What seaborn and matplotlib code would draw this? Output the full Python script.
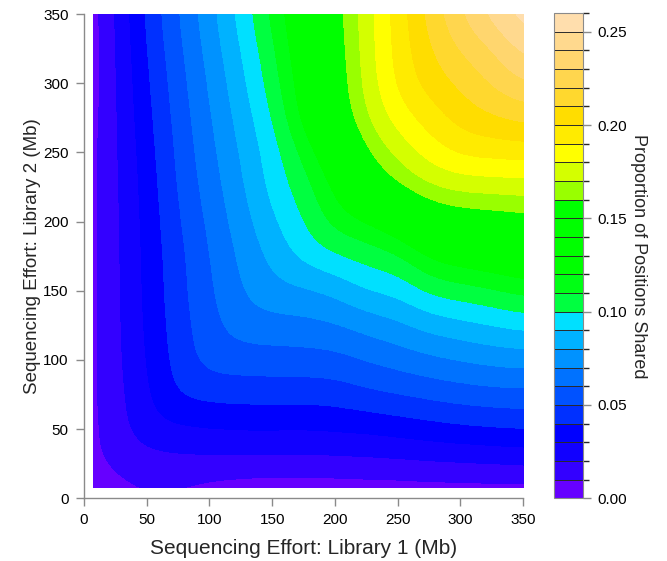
import numpy as np
import matplotlib
matplotlib.use("Agg")
import matplotlib.pyplot as plt
from matplotlib.colors import ListedColormap, BoundaryNorm
from matplotlib.patches import Rectangle
import seaborn as sns

effort_lib1 = [0, 25, 50, 75, 100, 125, 150, 175, 200, 225, 250, 275, 300, 325, 350]
effort_lib2 = [0, 25, 50, 75, 100, 125, 150, 175, 200, 225, 250, 275, 300, 325, 350]
data_start = 7  # the map itself starts at about 7 Mb on both axes

# proportion of positions shared, one list per Library 2 effort (row), across Library 1 effort
shared_y000 = [0.0000, 0.0056, 0.0087, 0.0076, 0.0035, 0.0008, 0.0000, 0.0000, 0.0009, 0.0010, 0.0011, 0.0017, 0.0017, 0.0019, 0.0014]
shared_y025 = [0.0064, 0.0124, 0.0152, 0.0166, 0.0170, 0.0172, 0.0171, 0.0168, 0.0169, 0.0176, 0.0182, 0.0190, 0.0197, 0.0203, 0.0217]
shared_y050 = [0.0050, 0.0152, 0.0270, 0.0286, 0.0300, 0.0308, 0.0309, 0.0305, 0.0317, 0.0321, 0.0342, 0.0363, 0.0384, 0.0398, 0.0406]
shared_y075 = [0.0048, 0.0166, 0.0286, 0.0420, 0.0435, 0.0442, 0.0444, 0.0443, 0.0447, 0.0483, 0.0505, 0.0531, 0.0553, 0.0568, 0.0573]
shared_y100 = [0.0042, 0.0174, 0.0306, 0.0444, 0.0550, 0.0552, 0.0559, 0.0560, 0.0568, 0.0609, 0.0645, 0.0680, 0.0709, 0.0735, 0.0746]
shared_y125 = [0.0040, 0.0177, 0.0318, 0.0456, 0.0567, 0.0657, 0.0665, 0.0672, 0.0693, 0.0739, 0.0780, 0.0842, 0.0874, 0.0906, 0.0936]
shared_y150 = [0.0037, 0.0180, 0.0325, 0.0467, 0.0588, 0.0700, 0.0775, 0.0785, 0.0826, 0.0910, 0.0930, 0.1030, 0.1060, 0.1090, 0.1139]
shared_y175 = [0.0036, 0.0181, 0.0328, 0.0473, 0.0602, 0.0723, 0.0829, 0.0940, 0.0995, 0.1040, 0.1080, 0.1220, 0.1273, 0.1310, 0.1350]
shared_y200 = [0.0034, 0.0184, 0.0335, 0.0493, 0.0624, 0.0755, 0.0887, 0.1000, 0.1150, 0.1200, 0.1310, 0.1470, 0.1520, 0.1536, 0.1561]
shared_y225 = [0.0032, 0.0187, 0.0342, 0.0514, 0.0648, 0.0786, 0.0938, 0.1054, 0.1223, 0.1450, 0.1607, 0.1706, 0.1743, 0.1750, 0.1756]
shared_y250 = [0.0030, 0.0190, 0.0356, 0.0526, 0.0672, 0.0812, 0.0956, 0.1127, 0.1340, 0.1607, 0.1740, 0.1853, 0.1931, 0.1943, 0.1950]
shared_y275 = [0.0013, 0.0194, 0.0372, 0.0542, 0.0694, 0.0842, 0.1000, 0.1240, 0.1490, 0.1706, 0.1853, 0.1953, 0.2049, 0.2095, 0.2136]
shared_y300 = [0.0003, 0.0199, 0.0388, 0.0559, 0.0716, 0.0874, 0.1050, 0.1273, 0.1520, 0.1743, 0.1931, 0.2049, 0.2120, 0.2217, 0.2306]
shared_y325 = [0.0000, 0.0203, 0.0405, 0.0579, 0.0741, 0.0906, 0.1080, 0.1310, 0.1536, 0.1756, 0.1943, 0.2095, 0.2217, 0.2300, 0.2447]
shared_y350 = [0.0000, 0.0209, 0.0423, 0.0600, 0.0769, 0.0938, 0.1128, 0.1340, 0.1553, 0.1763, 0.1950, 0.2140, 0.2301, 0.2449, 0.2560]

band_colors = [
    "#6600FF", "#3300FF", "#1100FF", "#0000FF", "#0030FF",
    "#0052FF", "#0072FF", "#0092FF", "#00B2FF", "#00E0FF",
    "#00FF40", "#00FF14", "#00FF00", "#00FF00", "#00FF00",
    "#00FF00", "#99FF00", "#D4FF00", "#FFFF00", "#FFEB00",
    "#FFDD00", "#FFD82E", "#FFD64E", "#FFD66E", "#FFD98E", "#FFDEAD",
]
levels = np.linspace(0, 0.26, 27)
cbar_ticks = [0.00, 0.05, 0.10, 0.15, 0.20, 0.25]

sns.set_theme(style="ticks")
plt.rcParams["font.family"] = ["Liberation Sans", "DejaVu Sans"]

Z = np.array([shared_y000, shared_y025, shared_y050, shared_y075, shared_y100,
              shared_y125, shared_y150, shared_y175, shared_y200, shared_y225,
              shared_y250, shared_y275, shared_y300, shared_y325, shared_y350])

cmap = ListedColormap(band_colors)
cmap.set_under(band_colors[0])
cmap.set_over(band_colors[-1])
norm = BoundaryNorm(levels, cmap.N)

fig = plt.figure(figsize=(6.67, 5.61), dpi=100)
ax = fig.add_axes([0.126, 0.112, 0.658, 0.863])
cax = fig.add_axes([0.8306, 0.112, 0.0435, 0.8645])

dx = effort_lib1[1] - effort_lib1[0]
dy = effort_lib2[1] - effort_lib2[0]
extent = [effort_lib1[0] - dx / 2, effort_lib1[-1] + dx / 2,
          effort_lib2[0] - dy / 2, effort_lib2[-1] + dy / 2]
im = ax.imshow(Z, origin="lower", extent=extent, cmap=cmap, norm=norm,
               interpolation="bicubic", interpolation_stage="data", aspect="auto")
clip = Rectangle((data_start, data_start), effort_lib1[-1] - data_start,
                 effort_lib2[-1] - data_start, transform=ax.transData)
im.set_clip_path(clip)

ax.set_xlim(0, 350)
ax.set_ylim(0, 350)
ax.set_xticks(range(0, 351, 50))
ax.set_yticks(range(0, 351, 50))
sns.despine(ax=ax)
for side in ["left", "bottom"]:
    ax.spines[side].set_color("#8a8a8a")
    ax.spines[side].set_linewidth(1.0)
ax.tick_params(axis="both", direction="out", length=6, width=1.0, color="#8a8a8a",
               labelsize=11, labelcolor="black", pad=5)

cb = fig.colorbar(im, cax=cax, ticks=cbar_ticks)
cb.ax.set_yticklabels([f"{t:.2f}" for t in cbar_ticks])
for lv in levels[1:-1]:
    cax.axhline(lv, color="#2a2a2a", lw=0.7)
cb.outline.set_edgecolor("#8a8a8a")
cb.outline.set_linewidth(0.8)
cax.tick_params(axis="y", direction="out", length=6, width=1.0, color="#8a8a8a",
                labelsize=11, labelcolor="black", pad=4)

fig.text(0.455, 0.023, "Sequencing Effort: Library 1 (Mb)", ha="center", va="center", fontsize=15)
fig.text(0.049, 0.544, "Sequencing Effort: Library 2 (Mb)", ha="center", va="center",
         rotation=90, fontsize=13.5)
fig.text(0.958, 0.544, "Proportion of Positions Shared", ha="center", va="center",
         rotation=-90, fontsize=13)

fig.savefig("out.png", dpi=100, facecolor="white")
